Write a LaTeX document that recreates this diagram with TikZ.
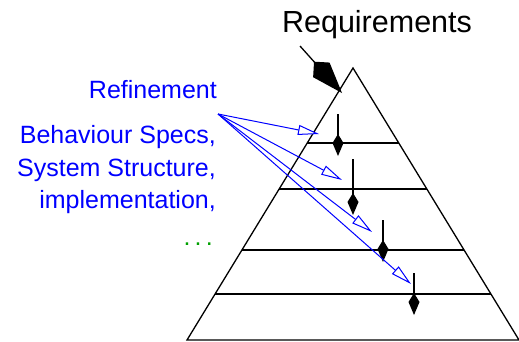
\documentclass[tikz,border=0pt]{standalone}
\usepackage{fontspec}
\setmainfont{Liberation Sans}
\usetikzlibrary{arrows.meta,calc}
\definecolor{refblue}{RGB}{0,0,255}
\definecolor{dotgreen}{RGB}{0,160,0}
\tikzset{
  level/.style={line width=1.3pt},
  down/.style={line width=1.3pt,-{Kite[length=22pt,width=11pt,inset=9pt]}},
  bigdown/.style={line width=1.3pt,-{Kite[length=42pt,width=22pt,inset=11pt]}},
  refine/.style={refblue,line width=1pt,-{Triangle[length=21pt,width=10pt,fill=white]}},
  bluetext/.style={refblue,font=\fontsize{25}{30}\selectfont,anchor=base east,inner sep=0pt},
}
\begin{document}
\begin{tikzpicture}[x=1pt,y=-1pt]
\useasboundingbox (0,0) rectangle (519,341);
% pyramid
\coordinate (apex) at (353,68);
\coordinate (bl) at (187,340);
\coordinate (br) at (519,340);
\draw[level] (apex) -- (bl) -- (br) -- cycle;
\foreach \t [count=\i] in {0.276,0.445,0.669,0.831}
  \draw[level] ($(apex)!\t!(bl)$) coordinate (l\i) -- ($(apex)!\t!(br)$) coordinate (r\i);

% requirements
\node[font=\fontsize{30.5}{36}\selectfont,anchor=base,inner sep=0pt] (title) at (377,32) {Requirements};
\coordinate (req) at (300,46);
\coordinate (reqtip) at (342,93);
\draw[bigdown] (req) -- (reqtip);

% steps down the levels
\coordinate (top1) at (338,114); \coordinate (tip1) at (338,156);
\coordinate (top2) at (353,159); \coordinate (tip2) at (353,215);
\coordinate (top3) at (383,220); \coordinate (tip3) at (383,262);
\coordinate (top4) at (414,273); \coordinate (tip4) at (414,315);
\foreach \i in {1,...,4}
  \draw[down] (top\i) -- (tip\i);

% refinement labels
\node[bluetext] (refinement) at (217,98) {Refinement};
\node[bluetext] (specs) at (216,143) {Behaviour Specs,};
\node[bluetext] (structure) at (216,176) {System Structure,};
\node[bluetext] (impl) at (216,208) {implementation,};
\node[bluetext,dotgreen] (more) at (213,245) {.\,.\,.};

\coordinate (src) at (218,114);
\coordinate (t1) at (319,134);
\coordinate (t2) at (342,180);
\coordinate (t3) at (372,232);
\coordinate (t4) at (411,284);
\foreach \i in {1,...,4}
  \draw[refine] (src) -- (t\i);
\end{tikzpicture}
\end{document}
